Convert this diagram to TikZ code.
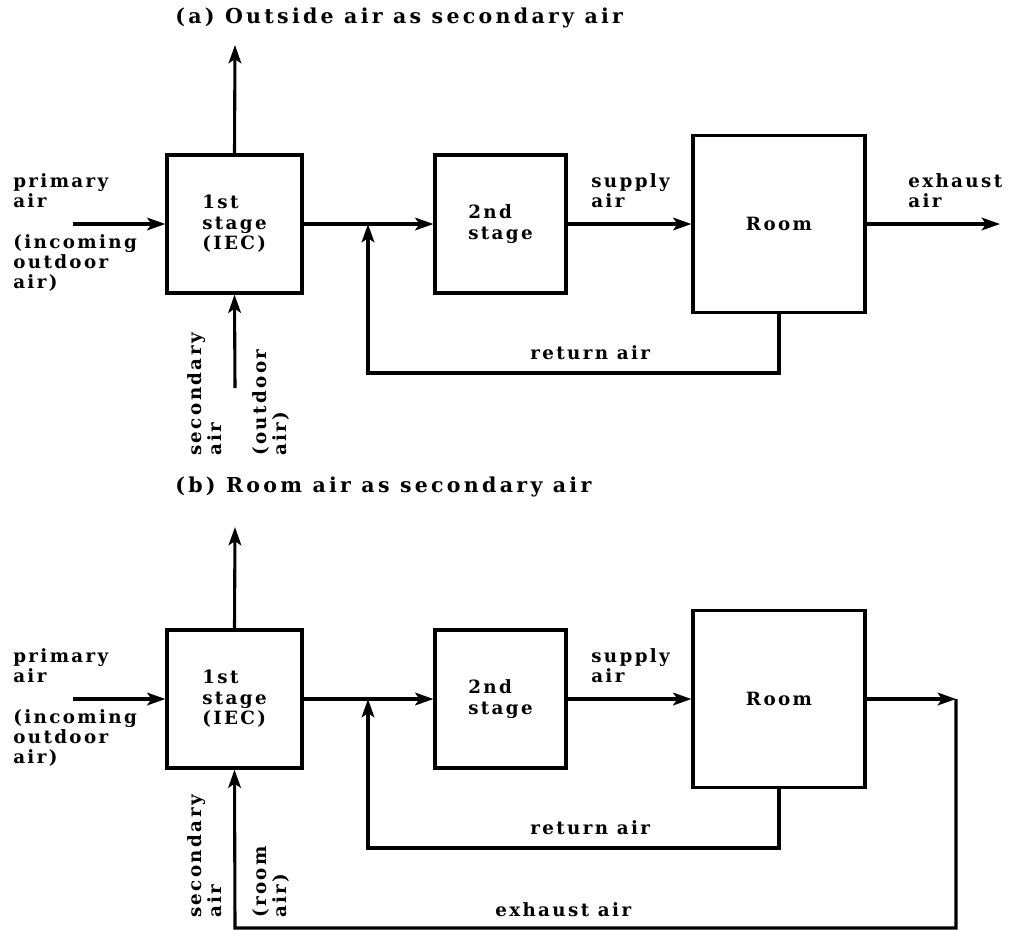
\documentclass[tikz,border=0pt]{standalone}
\usepackage{fontspec}
\setmainfont{DejaVu Serif}[LetterSpace=13]
\newfontfamily\ttlfont{DejaVu Serif}[LetterSpace=16]
\usetikzlibrary{arrows.meta, positioning}

\begin{document}
\begin{tikzpicture}[x=0.025cm, y=-0.025cm,
  font=\bfseries\fontsize{13}{14.5}\selectfont,
  blk/.style={rectangle, draw, line width=2.2pt, align=left, inner sep=0pt},
  lbl/.style={align=left, inner sep=0pt},
  vlbl/.style={lbl, rotate=90, anchor=south west},
  ttl/.style={inner sep=0pt, anchor=west, font=\ttlfont\bfseries\fontsize{14.6}{17}\selectfont},
  ar/.style={-{Stealth[length=13pt, width=9pt, inset=3pt]}, line width=2.2pt}]
\useasboundingbox (0,0) rectangle (1016,929);

% (a) outside air as secondary air
\node[ttl] (ttla) at (175,18) {(a) Outside air as secondary air};
\node[blk, minimum width=3.375cm, minimum height=3.45cm] (s1a) at (234.5,224) {1st\\stage\\(IEC)};
\node[blk, minimum width=3.275cm, minimum height=3.45cm] (s2a) at (500.5,224) {2nd\\stage};
\node[blk, minimum width=4.3cm, minimum height=4.425cm] (rma) at (779,224) {Room};
\coordinate (ina) at (73,224);  \coordinate (outa) at (235,45);
\coordinate (seca) at (235,388); \coordinate (exa) at (1000,224);
\coordinate (jna) at (368,224);  \coordinate (rta) at (368,373);
\draw[ar] (ina) -- (s1a.west); \draw[ar] (s1a.north) -- (outa);
\draw[ar] (seca) -- (s1a.south); \draw[ar] (s1a.east) -- (s2a.west);
\draw[ar] (s2a.east) -- (rma.west); \draw[ar] (rma.east) -- (exa);
\draw[ar] (rma.south) |- (rta) -- (jna);
\node[lbl, anchor=north west] (pria) at (13,173) {primary\\air};
\node[lbl, anchor=north west] (inca) at (13,234) {(incoming\\outdoor\\air)};
\node[lbl, anchor=north west] (supa) at (591,173) {supply\\air};
\node[lbl, anchor=north west] (exla) at (908,173) {exhaust\\air};
\node[lbl, anchor=south west] (reta) at (530,360) {return air};
\node[vlbl] (secla) at (222,456) {secondary\\air};
\node[vlbl] (outla) at (290,456) {(outdoor\\air)};

% (b) room air as secondary air
\node[ttl] (ttlb) at (175,487) {(b) Room air as secondary air};
\node[blk, minimum width=3.375cm, minimum height=3.45cm] (s1b) at (234.5,699) {1st\\stage\\(IEC)};
\node[blk, minimum width=3.275cm, minimum height=3.45cm] (s2b) at (500.5,699) {2nd\\stage};
\node[blk, minimum width=4.3cm, minimum height=4.425cm] (rmb) at (779,699) {Room};
\coordinate (inb) at (73,699);  \coordinate (outb) at (235,527);
\coordinate (crb) at (956,699); \coordinate (btb) at (235,928);
\coordinate (jnb) at (368,699); \coordinate (rtb) at (368,848);
\draw[ar] (inb) -- (s1b.west); \draw[ar] (s1b.north) -- (outb);
\draw[ar] (s1b.east) -- (s2b.west); \draw[ar] (s2b.east) -- (rmb.west);
\draw[ar] (rmb.east) -- (crb);
\draw[ar] (crb) |- (btb) -- (s1b.south);
\draw[ar] (rmb.south) |- (rtb) -- (jnb);
\node[lbl, anchor=north west] (prib) at (13,648) {primary\\air};
\node[lbl, anchor=north west] (incb) at (13,709) {(incoming\\outdoor\\air)};
\node[lbl, anchor=north west] (supb) at (591,648) {supply\\air};
\node[lbl, anchor=south west] (retb) at (530,835) {return air};
\node[lbl, anchor=south west] (exlb) at (495,917) {exhaust air};
\node[vlbl] (seclb) at (222,918) {secondary\\air};
\node[vlbl] (roomlb) at (290,918) {(room\\air)};
\end{tikzpicture}
\end{document}
